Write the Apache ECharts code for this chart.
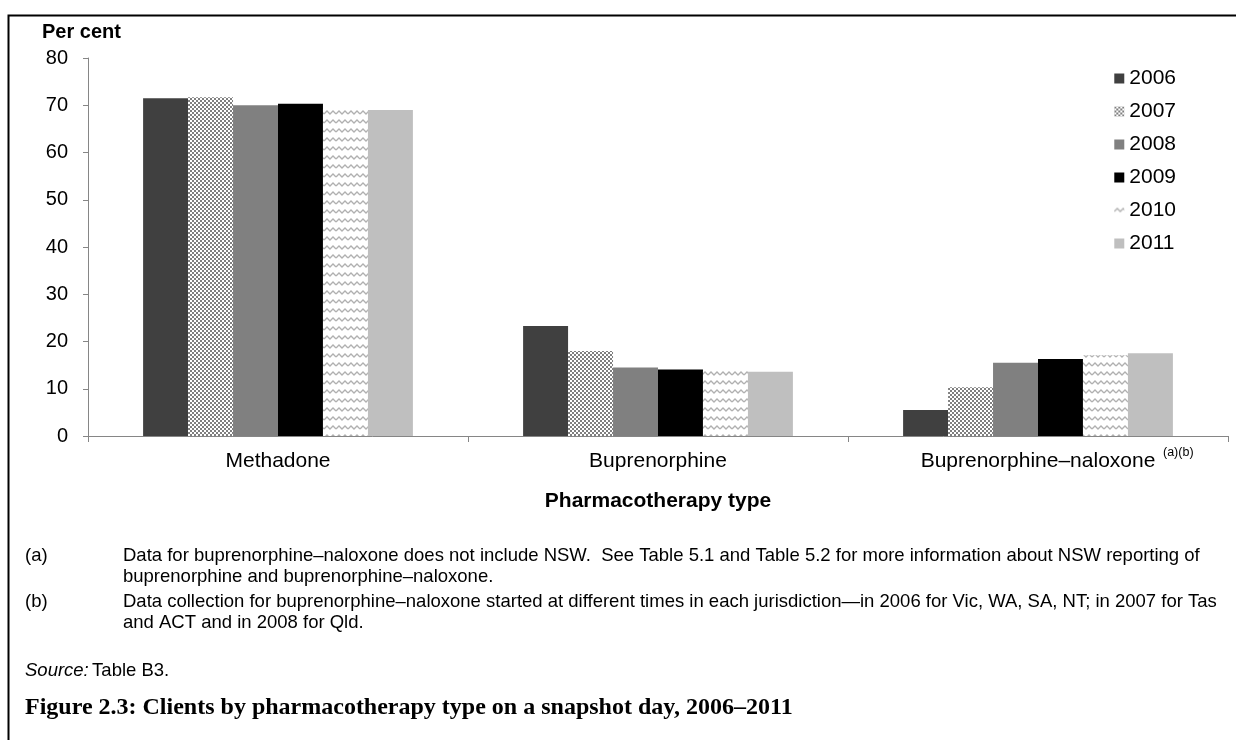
<!DOCTYPE html>
<html>
<head>
<meta charset="utf-8">
<script src="https://cdn.jsdelivr.net/npm/echarts@6/dist/echarts.min.js"></script>
<style>
  html, body { margin: 0; padding: 0; background: #fff; }
  #main { width: 1236px; height: 740px; }
</style>
</head>
<body>
<div id="main"></div>
<script>
const categories = ['Methadone', 'Buprenorphine', 'Buprenorphine\u2013naloxone'];
const years = ['2006', '2007', '2008', '2009', '2010', '2011'];
const v2006 = [71.5, 23.3, 5.5];
const v2007 = [71.7, 18.0, 10.3];
const v2008 = [70.0, 14.5, 15.5];
const v2009 = [70.3, 14.1, 16.3];
const v2010 = [69.2, 13.8, 17.1];
const v2011 = [69.0, 13.6, 17.5];
const yTicks = [0, 10, 20, 30, 40, 50, 60, 70, 80];

// fill patterns like the Excel ones
function checkerPattern() {
  const c = document.createElement('canvas');
  c.width = 4; c.height = 4;
  const ctx = c.getContext('2d');
  ctx.fillStyle = '#ffffff';
  ctx.fillRect(0, 0, 4, 4);
  ctx.fillStyle = '#7f7f7f';
  ctx.fillRect(0, 0, 2, 2);
  ctx.fillRect(2, 2, 2, 2);
  return c;
}
function zigzagPattern() {
  const c = document.createElement('canvas');
  c.width = 12; c.height = 9;
  const ctx = c.getContext('2d');
  ctx.fillStyle = '#ffffff';
  ctx.fillRect(0, 0, 12, 9);
  ctx.strokeStyle = '#b0b0b0';
  ctx.lineWidth = 1.3;
  ctx.beginPath();
  ctx.moveTo(0, 6);
  ctx.lineTo(3, 3);
  ctx.lineTo(6, 6);
  ctx.lineTo(9, 3);
  ctx.lineTo(12, 6);
  ctx.stroke();
  return c;
}

const fills = [
  '#404040',
  { image: checkerPattern(), repeat: 'repeat' },
  '#808080',
  '#000000',
  { image: zigzagPattern(), repeat: 'repeat' },
  '#bfbfbf'
];
const dataByYear = [v2006, v2007, v2008, v2009, v2010, v2011];

const font = 'Liberation Sans, Arial, sans-serif';
const noteSize = 18.5;
const chart = echarts.init(document.getElementById('main'));

const option = {
  animation: false,
  textStyle: { fontFamily: font },
  grid: { left: 88, right: 8, top: 58, bottom: 304, containLabel: false },
  legend: {
    orient: 'vertical',
    right: 55,
    top: 63,
    itemWidth: 10,
    itemHeight: 10,
    itemGap: 12,
    icon: 'rect',
    textStyle: { fontSize: 21, color: '#000', fontFamily: font },
    data: years
  },
  xAxis: {
    type: 'category',
    data: categories,
    axisLine: { lineStyle: { color: '#868686', width: 1 } },
    axisTick: { show: true, length: 6, lineStyle: { color: '#868686' } },
    axisLabel: { fontSize: 21, color: '#000', margin: 15, interval: 0 },
    name: 'Pharmacotherapy type',
    nameLocation: 'middle',
    nameGap: 55,
    nameTextStyle: { fontSize: 21, fontWeight: 'bold', color: '#000' }
  },
  yAxis: {
    type: 'value',
    min: 0, max: 80, interval: 10,
    axisLine: { show: true, lineStyle: { color: '#868686' } },
    axisTick: { show: true, length: 5, inside: false, lineStyle: { color: '#868686' } },
    splitLine: { show: false },
    axisLabel: {
      fontSize: 20, color: '#000', margin: 20,
      formatter: function (v) { return yTicks.indexOf(v) >= 0 ? String(v) : ''; }
    }
  },
  series: years.map(function (y, i) {
    return {
      name: y,
      type: 'bar',
      data: dataByYear[i],
      barGap: '0%',
      barCategoryGap: '29%',
      itemStyle: { color: fills[i] }
    };
  }),
  graphic: [
    { type: 'rect', left: 6, top: 13, shape: { width: 1250, height: 760 }, style: { fill: 'none', stroke: '#000', lineWidth: 2 }, silent: true },
    { type: 'text', left: 42, top: 22, style: { text: 'Per cent', fontSize: 20, fontWeight: 'bold', fill: '#000', fontFamily: font } },
    { type: 'text', left: 1163, top: 446, style: { text: '(a)(b)', fontSize: 12.5, fill: '#000', fontFamily: font } },
    { type: 'text', left: 25, top: 546, style: { text: '(a)', fontSize: noteSize, fill: '#000', fontFamily: font } },
    { type: 'text', left: 123, top: 546, style: { text: 'Data for buprenorphine\u2013naloxone does not include NSW.  See Table 5.1 and Table 5.2 for more information about NSW reporting of', fontSize: noteSize, fill: '#000', fontFamily: font } },
    { type: 'text', left: 123, top: 567, style: { text: 'buprenorphine and buprenorphine\u2013naloxone.', fontSize: noteSize, fill: '#000', fontFamily: font } },
    { type: 'text', left: 25, top: 592, style: { text: '(b)', fontSize: noteSize, fill: '#000', fontFamily: font } },
    { type: 'text', left: 123, top: 592, style: { text: 'Data collection for buprenorphine\u2013naloxone started at different times in each jurisdiction\u2014in 2006 for Vic, WA, SA, NT; in 2007 for Tas', fontSize: noteSize, fill: '#000', fontFamily: font } },
    { type: 'text', left: 123, top: 613, style: { text: 'and ACT and in 2008 for Qld.', fontSize: noteSize, fill: '#000', fontFamily: font } },
    { type: 'text', left: 25, top: 661, style: { rich: { i: { fontStyle: 'italic', fontSize: noteSize, fontFamily: font }, n: { fontSize: noteSize, fontFamily: font } }, text: '{i|Source:} {n|Table B3.}', fill: '#000' } },
    { type: 'text', left: 25, top: 696, style: { text: 'Figure 2.3: Clients by pharmacotherapy type on a snapshot day, 2006\u20132011', fontSize: 24, fontWeight: 'bold', fill: '#000', fontFamily: 'Liberation Serif, DejaVu Serif, serif' } }
  ]
};

chart.setOption(option);
window.addEventListener('resize', function () { chart.resize(); });
</script>
</body>
</html>
